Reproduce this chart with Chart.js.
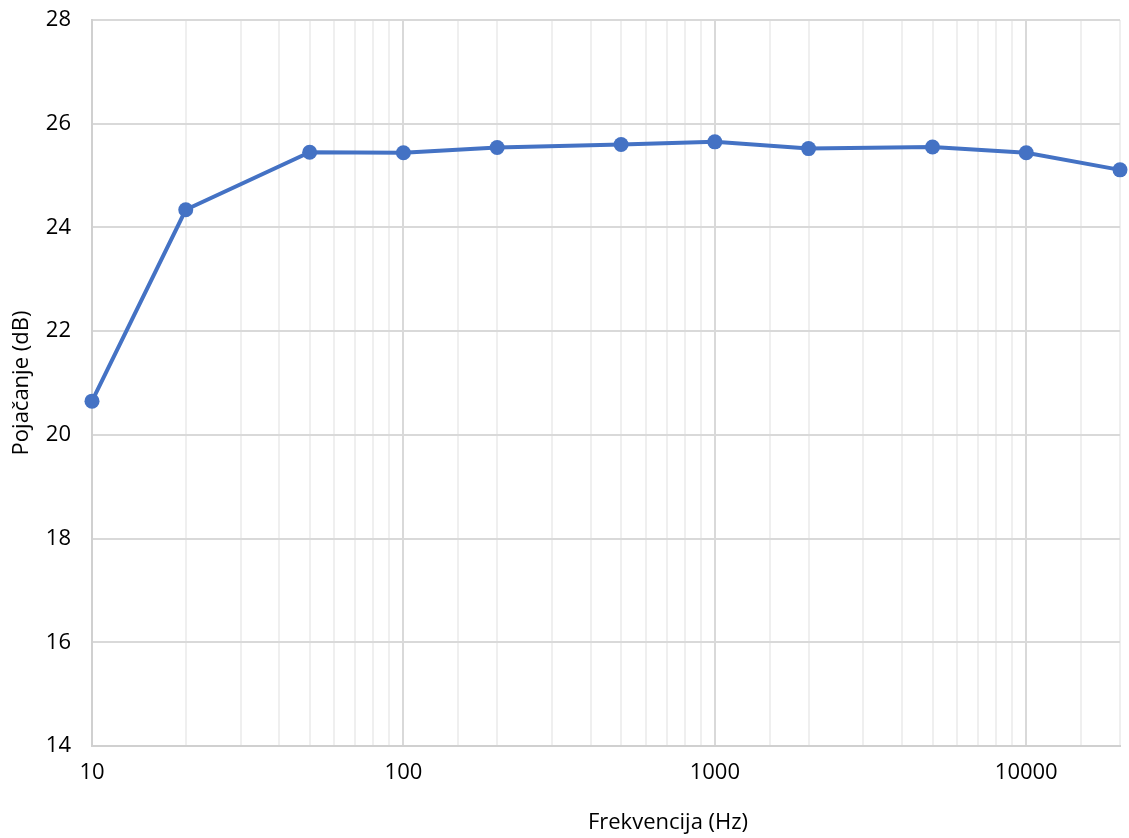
<!DOCTYPE html>
<html>
<head>
<meta charset="utf-8">
<script src="https://cdn.jsdelivr.net/npm/chart.js@4"></script>
<style>
  html, body { margin: 0; padding: 0; background: #fff; }
  #wrap { width: 1129px; height: 838px; }
</style>
</head>
<body>
<div id="wrap"><canvas id="chart"></canvas></div>
<script>
// podaci ocitani s grafa
const frekvencije = [10, 20, 50, 100, 200, 500, 1000, 2000, 5000, 10000, 20000];
const pojacanje = [20.65, 24.34, 25.45, 25.44, 25.54, 25.60, 25.65, 25.52, 25.55, 25.44, 25.11];
const yTicks = [14, 16, 18, 20, 22, 24, 26, 28];
const xNaslov = 'Frekvencija (Hz)';
const yNaslov = 'Pojačanje (dB)';

const points = frekvencije.map((f, i) => ({ x: f, y: pojacanje[i] }));

function isDecade(v) {
  const l = Math.log10(v);
  return Math.abs(l - Math.round(l)) < 1e-9;
}

const font = { family: "'Open Sans', sans-serif", size: 22 };

// naslov x osi je u Excelu malo pomaknut udesno od sredine
const xTitlePlugin = {
  id: 'xTitle',
  afterDraw(chart) {
    const { ctx, chartArea } = chart;
    ctx.save();
    ctx.font = font.size + "px 'Open Sans', sans-serif";
    ctx.fillStyle = '#000';
    ctx.textAlign = 'center';
    ctx.textBaseline = 'middle';
    ctx.fillText(xNaslov, (chartArea.left + chartArea.right) / 2 + 62, chart.height - 15);
    ctx.restore();
  }
};

new Chart(document.getElementById('chart'), {
  type: 'line',
  data: {
    datasets: [{
      data: points,
      borderColor: '#4472C4',
      backgroundColor: '#4472C4',
      borderWidth: 4,
      pointRadius: 7.5,
      pointHoverRadius: 7.5,
      pointBorderWidth: 0,
      tension: 0,
      clip: false
    }]
  },
  options: {
    responsive: true,
    maintainAspectRatio: false,
    animation: false,
    layout: { padding: { left: 9, right: 9, top: 20, bottom: 2 } },
    plugins: { legend: { display: false }, tooltip: { enabled: false } },
    scales: {
      x: {
        type: 'logarithmic',
        min: 10,
        max: 20000,
        border: { color: '#d0d0d0', width: 2 },
        grid: {
          drawTicks: false,
          color: ctx => (ctx.tick && isDecade(ctx.tick.value)) ? '#d9d9d9' : '#efefef',
          lineWidth: 2
        },
        ticks: {
          autoSkip: false,
          maxRotation: 0,
          padding: 14,
          color: '#000',
          font: font,
          callback: v => isDecade(v) ? String(v) : ''
        },
        title: { display: false },
        afterFit: axis => { axis.paddingLeft = 0; axis.paddingRight = 0; axis.height = 90; }
      },
      y: {
        min: 14,
        max: 28,
        afterBuildTicks: axis => { axis.ticks = yTicks.map(v => ({ value: v })); },
        border: { color: '#d0d0d0', width: 2 },
        grid: { drawTicks: false, color: '#d9d9d9', lineWidth: 2 },
        ticks: {
          padding: 21,
          color: '#000',
          font: font
        },
        title: {
          display: true,
          text: yNaslov,
          color: '#000',
          font: font,
          padding: { top: 0, bottom: 10 }
        },
        afterFit: axis => { axis.paddingTop = 0; axis.paddingBottom = 0; axis.width = 83; }
      }
    }
  },
  plugins: [xTitlePlugin]
});
</script>
</body>
</html>
